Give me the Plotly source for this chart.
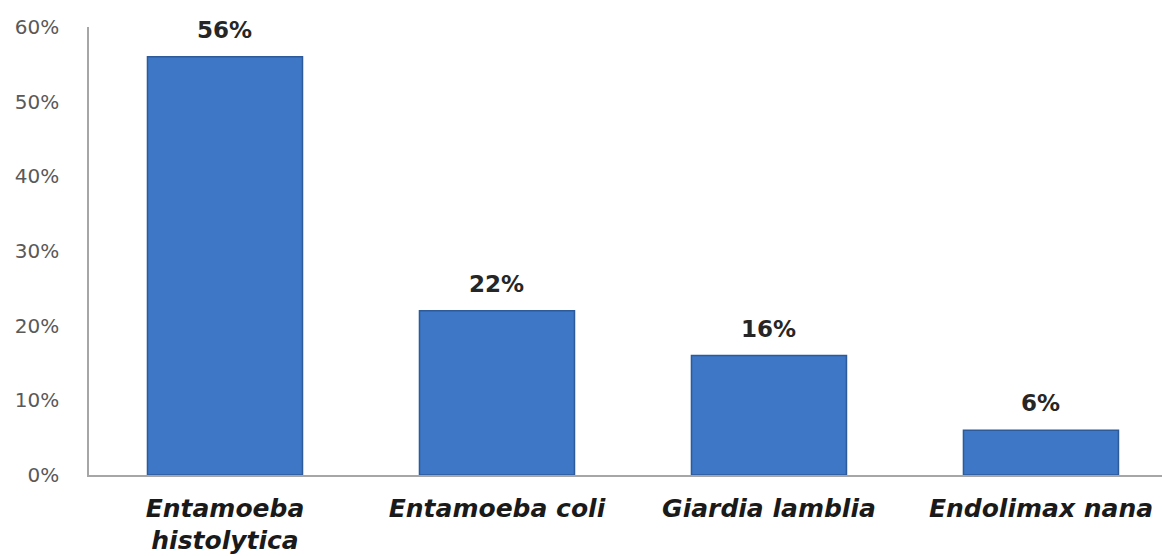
import plotly.graph_objects as go

categories = ["Entamoeba<br>histolytica", "Entamoeba coli", "Giardia lamblia", "Endolimax nana"]
values = [0.56, 0.22, 0.16, 0.06]
value_labels = ["56%", "22%", "16%", "6%"]
y_ticks = [0, 0.1, 0.2, 0.3, 0.4, 0.5, 0.6]
y_tick_labels = ["0%", "10%", "20%", "30%", "40%", "50%", "60%"]

fig = go.Figure()
fig.add_trace(go.Bar(
    x=categories, y=values, width=0.57,
    marker=dict(color="#3D77C5", line=dict(color="#2C5A9A", width=1.5)),
    hoverinfo="skip",
))

for c, v, t in zip(categories, values, value_labels):
    fig.add_annotation(x=c, y=v, text=t, showarrow=False, yanchor="middle", yshift=27,
                       font=dict(family="DejaVu Sans", size=23, color="#262626", weight="bold"))

fig.update_layout(
    width=1162, height=556,
    margin=dict(l=89, r=0, t=27, b=81),
    paper_bgcolor="white", plot_bgcolor="white",
    showlegend=False,
    xaxis=dict(
        range=[-0.5, 3.445],
        showline=True, linecolor="#A6A6A6", linewidth=1.5,
        showgrid=False, zeroline=False,
        ticks="", ticklabelstandoff=10,
        tickfont=dict(family="DejaVu Sans", size=25, color="#1A1A1A", weight="bold", style="italic"),
    ),
    yaxis=dict(
        range=[0, 0.6],
        tickvals=y_ticks, ticktext=y_tick_labels,
        showline=True, linecolor="#A6A6A6", linewidth=1.5,
        showgrid=False, zeroline=False,
        ticks="", ticklabelstandoff=24,
        tickfont=dict(family="DejaVu Sans", size=20, color="#595959"),
    ),
)

fig.write_html("out.html")
